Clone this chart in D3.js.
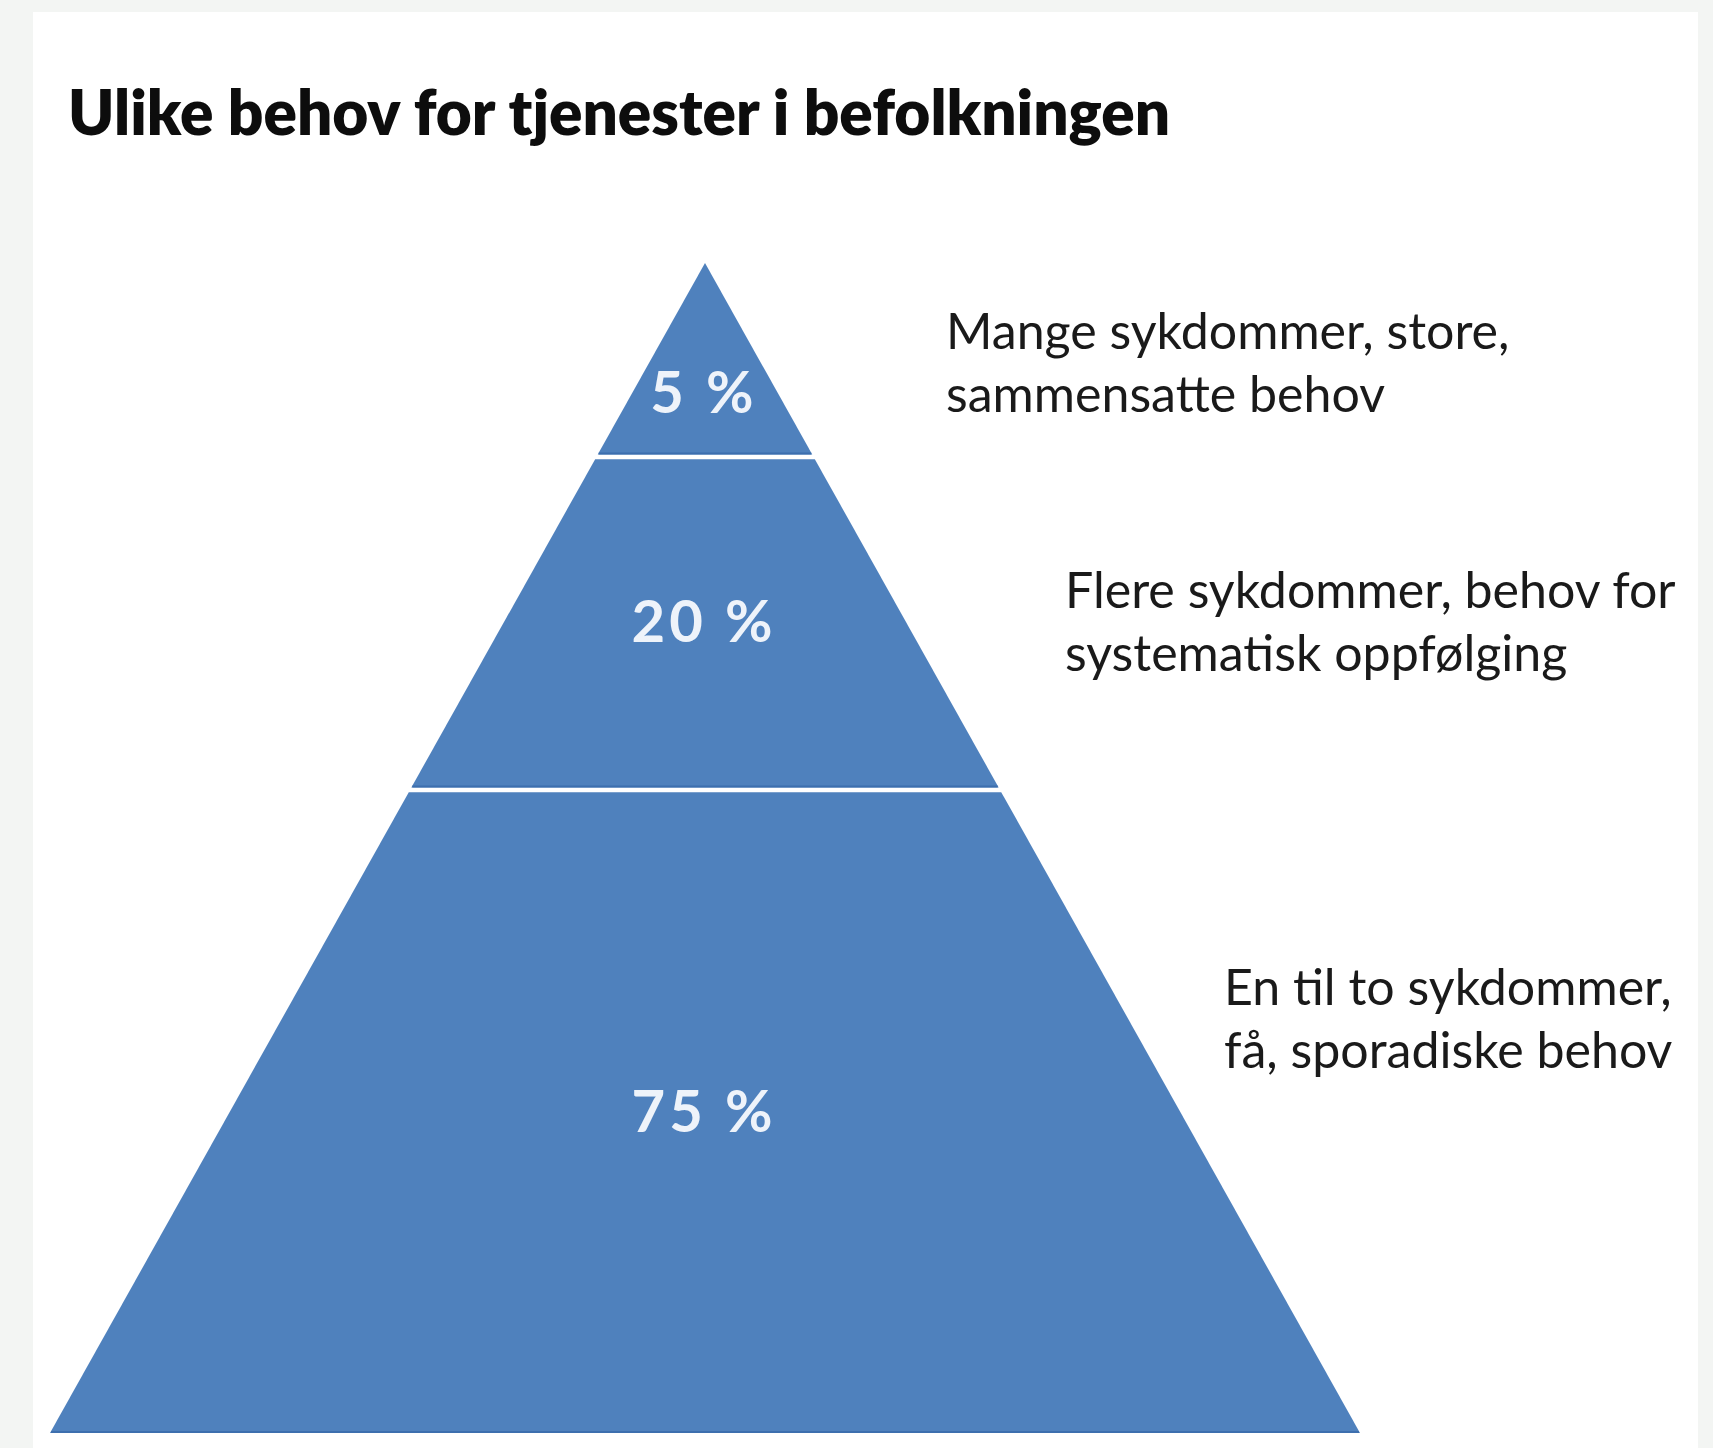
<!DOCTYPE html>
<html>
<head>
<meta charset="utf-8">
<script src="https://cdn.jsdelivr.net/npm/d3@7"></script>
<style>
  html, body { margin: 0; padding: 0; background: #f3f5f3; }
  svg { display: block; }
</style>
</head>
<body>
<div id="chart"></div>
<script>
// data
var title = "Ulike behov for tjenester i befolkningen";
var shares = [5, 20, 75];                 // percent of population, top to bottom
var shareLabels = ["5 %", "20 %", "75 %"];
var needs = [
  ["Mange sykdommer, store,", "sammensatte behov"],
  ["Flere sykdommer, behov for", "systematisk oppfølging"],
  ["En til to sykdommer,", "få, sporadiske behov"]
];
var tierBounds = [0, 0.1657, 0.4503, 1];   // depth of each tier edge, apex = 0, base = 1

var W = 1713, H = 1448;
var cx = 705;   // pyramid centre line

var svg = d3.select("#chart").append("svg")
  .attr("width", W)
  .attr("height", H);

// white panel
svg.append("rect")
  .attr("x", 33).attr("y", 12)
  .attr("width", 1665).attr("height", H - 12)
  .attr("fill", "#ffffff");

var y = d3.scaleLinear().domain([0, 1]).range([263, 1433]);
var half = d3.scaleLinear().domain([0, 1]).range([0, 655]);

var gap = 2.3; // half of the white gap between tiers

var tiers = shares.map(function (s, i) {
  return { share: s, label: shareLabels[i], lines: needs[i], d0: tierBounds[i], d1: tierBounds[i + 1], i: i };
});

function tierPoly(t) {
  var top = t.i == 0 ? y(t.d0) : y(t.d0) + gap;
  var bot = t.i == tiers.length - 1 ? y(t.d1) : y(t.d1) - gap;
  var wTop = half(y.invert(top));
  var wBot = half(y.invert(bot));
  return [[cx - wTop, top], [cx + wTop, top], [cx + wBot, bot], [cx - wBot, bot]];
}

var g = svg.append("g");

g.selectAll("polygon.tier")
  .data(tiers)
  .enter()
  .append("polygon")
  .attr("class", "tier")
  .attr("points", function (d) { return tierPoly(d).map(function (p) { return p.join(","); }).join(" "); })
  .attr("fill", "#4f81bd");

// darker bottom edge of every tier
g.selectAll("line.edge")
  .data(tiers)
  .enter()
  .append("line")
  .attr("class", "edge")
  .attr("x1", function (d) { var p = tierPoly(d); return p[3][0] + 1; })
  .attr("x2", function (d) { var p = tierPoly(d); return p[2][0] - 1; })
  .attr("y1", function (d) { return tierPoly(d)[2][1] - 1; })
  .attr("y2", function (d) { return tierPoly(d)[2][1] - 1; })
  .attr("stroke", "#3d6fae")
  .attr("stroke-width", 2);

// percent labels inside the pyramid
var pctBase = [413, 642, 1132];
g.selectAll("text.pct")
  .data(tiers)
  .enter()
  .append("text")
  .attr("class", "pct")
  .attr("x", cx - 1)
  .attr("y", function (d, i) { return pctBase[i]; })
  .attr("text-anchor", "middle")
  .attr("fill", "#eef3fa")
  .style("font-family", "Lato, 'Open Sans', sans-serif")
  .style("font-size", "58px")
  .style("font-weight", 700)
  .style("letter-spacing", "4px")
  .text(function (d) { return d.label; });

// descriptions to the right
var descPos = [[946, 349], [1065, 608], [1224, 1005]];
var lineGap = 63;
var desc = svg.selectAll("text.desc")
  .data(tiers)
  .enter()
  .append("text")
  .attr("class", "desc")
  .attr("x", function (d, i) { return descPos[i][0]; })
  .attr("y", function (d, i) { return descPos[i][1]; })
  .attr("fill", "#1a1a1a")
  .style("font-family", "Lato, 'Open Sans', sans-serif")
  .style("font-size", "48px");

desc.selectAll("tspan")
  .data(function (d, i) { return d.lines.map(function (l) { return { l: l, i: i }; }); })
  .enter()
  .append("tspan")
  .attr("x", function (d) { return descPos[d.i][0]; })
  .attr("dy", function (d, j) { return j == 0 ? 0 : lineGap; })
  .text(function (d) { return d.l; });

// fit description font so first line of first label is ~564px wide
var firstSpan = desc.select("tspan").node();
var w0 = firstSpan.getComputedTextLength();
desc.style("font-size", (48 * 564 / w0).toFixed(1) + "px");

// title
var t = svg.append("text")
  .attr("x", 68)
  .attr("y", 135)
  .attr("fill", "#0d0d0d")
  .style("font-family", "Lato, 'Open Sans', sans-serif")
  .style("font-weight", 800)
  .style("font-size", "60px")
  .text(title);
var tw = t.node().getComputedTextLength();
t.style("font-size", (60 * 1102 / tw).toFixed(1) + "px");
</script>
</body>
</html>
